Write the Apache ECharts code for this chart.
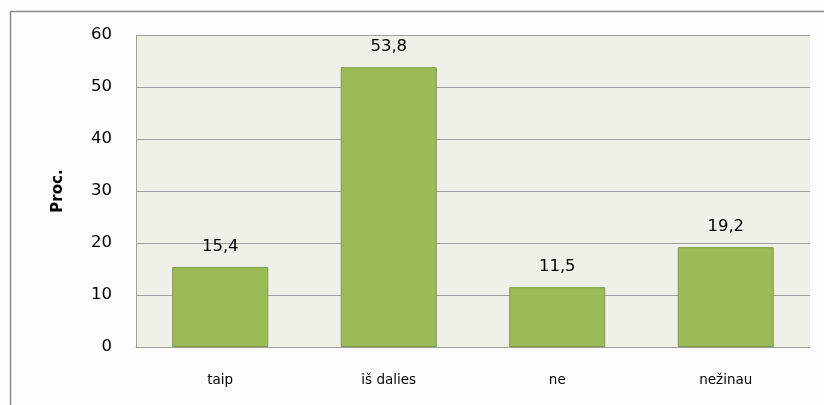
<!DOCTYPE html>
<html>
<head>
<meta charset="utf-8">
<script src="https://cdn.jsdelivr.net/npm/echarts@6/dist/echarts.min.js"></script>
<style>
  html, body { margin: 0; padding: 0; background: #fff; }
  #chart { width: 824px; height: 405px; }
</style>
</head>
<body>
<div id="chart"></div>
<script>
var categories = ['taip', 'iš dalies', 'ne', 'nežinau'];
var values = [15.4, 53.8, 11.5, 19.2];
var yTicks = [0, 10, 20, 30, 40, 50, 60];

var chart = echarts.init(document.getElementById('chart'));

var option = {
  animation: false,
  backgroundColor: '#fdfdfd',
  graphic: [
    {
      type: 'rect',
      shape: { x: 10.5, y: 11.5, width: 900, height: 500 },
      style: { fill: 'none', stroke: '#8c8c8c', lineWidth: 1.5 },
      silent: true
    }
  ],
  grid: {
    left: 136,
    top: 35,
    right: 14,
    bottom: 58,
    show: true,
    backgroundColor: '#eff1e8',
    borderWidth: 0
  },
  xAxis: {
    type: 'category',
    data: categories,
    axisTick: { show: false },
    axisLine: { lineStyle: { color: '#a0a0a0', width: 1 } },
    axisLabel: {
      color: '#000',
      fontFamily: 'DejaVu Sans',
      fontSize: 13.5,
      margin: 26
    }
  },
  yAxis: {
    type: 'value',
    min: yTicks[0],
    max: yTicks[yTicks.length - 1],
    interval: 10,
    name: 'Proc.',
    nameLocation: 'middle',
    nameGap: 70,
    nameTextStyle: {
      color: '#000',
      fontFamily: 'DejaVu Sans',
      fontSize: 15,
      fontWeight: 'bold'
    },
    axisLine: { show: true, lineStyle: { color: '#a0a0a0' } },
    axisTick: { show: false },
    splitLine: { lineStyle: { color: '#a0a0a0', width: 1 } },
    axisLabel: {
      color: '#000',
      fontFamily: 'DejaVu Sans',
      fontSize: 16.5,
      margin: 24
    }
  },
  series: [
    {
      type: 'bar',
      data: values,
      barWidth: '57%',
      itemStyle: {
        color: '#9bbb59',
        borderColor: '#7d9a45',
        borderWidth: 1
      },
      label: {
        show: true,
        position: 'top',
        distance: 12,
        color: '#000',
        fontFamily: 'DejaVu Sans',
        fontSize: 16.5,
        formatter: function (p) {
          return String(p.value).replace('.', ',');
        }
      }
    }
  ]
};

chart.setOption(option);
</script>
</body>
</html>
